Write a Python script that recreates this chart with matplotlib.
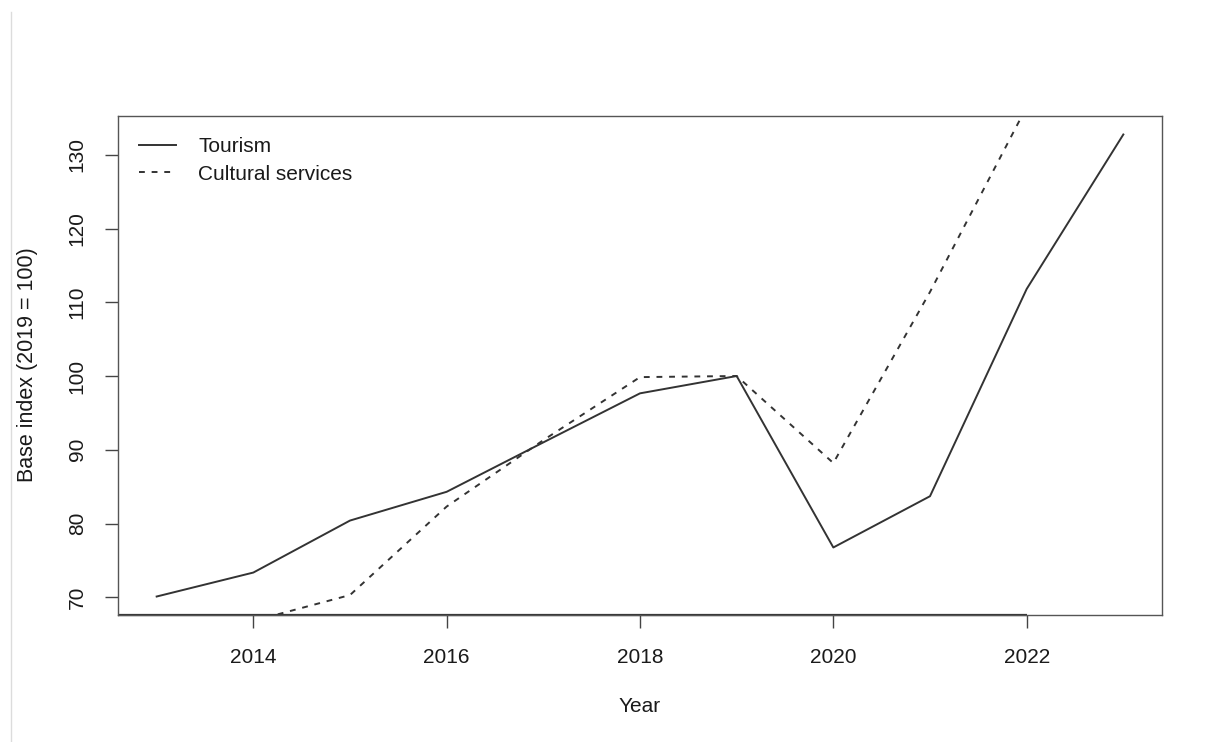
import numpy as np
import matplotlib
matplotlib.use("Agg")
import matplotlib.pyplot as plt
from matplotlib.lines import Line2D

plt.rcParams['font.family'] = ['Liberation Sans', 'DejaVu Sans']

years = [2013, 2014, 2015, 2016, 2017, 2018, 2019, 2020, 2021, 2022, 2023]
tourism = [70.1, 73.35, 80.4, 84.3, 91.0, 97.65, 100.0, 76.75, 83.7, 111.8, 132.75]

culture_years = [2014, 2015, 2016, 2017, 2018, 2019, 2020, 2021, 2022]
culture = [66.8, 70.3, 82.3, 91.3, 99.85, 100.0, 88.2, 111.4, 136.5]

xticks = [2014, 2016, 2018, 2020, 2022]
yticks = [70, 80, 90, 100, 110, 120, 130]

ink = '#333333'

fig = plt.figure(figsize=(12.09, 7.42), dpi=100)
ax = fig.add_axes([118/1209, 1-615/742, 1044/1209, 499/742])

ax.plot(years, tourism, color=ink, lw=1.4, label='Tourism')
ax.plot(culture_years, culture, color=ink, lw=1.4, dashes=(3, 3.5),
        label='Cultural services')

# R-style range: data range plus 4 %
ax.set_xlim(2012.6, 2023.4)
ymin, ymax = min(tourism), max(tourism)
ext = 0.04 * (ymax - ymin)
ax.set_ylim(ymin - ext, ymax + ext)

ax.set_xticks(xticks)
ax.set_yticks(yticks)
ax.tick_params(axis='both', direction='out', length=9.5, width=1.0,
               color='#444444', labelsize=15, labelcolor='#1a1a1a')
ax.tick_params(axis='x', pad=14.5)
ax.tick_params(axis='y', pad=13)
for lab in ax.get_yticklabels():
    lab.set_rotation(90)
    lab.set_va('center')

for s in ax.spines.values():
    s.set_color('#555555')
    s.set_linewidth(1.0)

# axis line drawn up to the last tick, over the box
ax.plot([2012.6, 2022], [0, 0], color='#333333', lw=1.6,
        transform=ax.get_xaxis_transform(), clip_on=False, solid_capstyle='butt')

leg = ax.legend(loc='upper left', frameon=False, fontsize=15,
                handlelength=1.8, handletextpad=1.05, labelspacing=0.42,
                borderaxespad=0.8, borderpad=0.2)
for t in leg.get_texts():
    t.set_color('#1a1a1a')

fig.text(28/1209, 1-365/742, 'Base index (2019 = 100)', rotation=90,
         ha='center', va='center', fontsize=15.5, color='#1a1a1a')
fig.text(640/1209, 1-707/742, 'Year', ha='center', va='center',
         fontsize=15, color='#1a1a1a')

# faint edge of the screenshot
fig.add_artist(Line2D([11/1209, 11/1209], [0, 1-12/742], color='#dcdcdc',
                      lw=1.0, transform=fig.transFigure))

fig.savefig('out.png', dpi=100)
